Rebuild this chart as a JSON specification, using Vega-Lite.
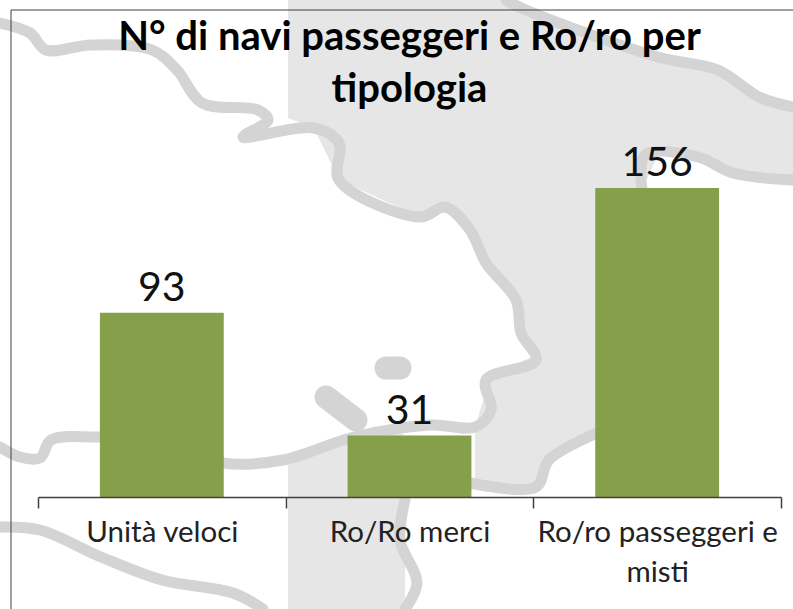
{"$schema":"https://vega.github.io/schema/vega-lite/v6.json","autosize":"none","width":743,"height":337,"padding":{"left":38,"top":160,"right":12,"bottom":112},"background":"white","view":{"stroke":null},
"title":{"text":["N° di navi passeggeri e Ro/ro per","tipologia"],"font":"Lato","fontWeight":"bold","fontSize":40,"lineHeight":52,"color":"#000000","anchor":"middle","offset":-115},
"datasets":{
"land":[{"part":"a","mx":288,"my":0,"my2":118},{"part":"a","mx":314,"my":0,"my2":128},{"part":"a","mx":339,"my":0,"my2":180},{"part":"a","mx":420,"my":0,"my2":217},{"part":"a","mx":445,"my":0,"my2":207},{"part":"a","mx":470,"my":0,"my2":230},{"part":"a","mx":486,"my":0,"my2":263},{"part":"a","mx":506,"my":0,"my2":290},{"part":"a","mx":516,"my":4,"my2":300},{"part":"a","mx":526,"my":10,"my2":333},{"part":"a","mx":536,"my":14,"my2":360},{"part":"a","mx":537,"my":14,"my2":440},{"part":"a","mx":549,"my":19,"my2":460},{"part":"a","mx":597,"my":35,"my2":433},{"part":"a","mx":642,"my":51,"my2":190},{"part":"a","mx":658,"my":57,"my2":155},{"part":"a","mx":698,"my":66,"my2":157},{"part":"a","mx":718,"my":70,"my2":165},{"part":"a","mx":733,"my":80,"my2":173},{"part":"a","mx":759,"my":97,"my2":177},{"part":"a","mx":793,"my":107,"my2":180},
{"part":"b","mx":475,"my":427,"my2":483},{"part":"b","mx":491,"my":375,"my2":483},{"part":"b","mx":536,"my":355,"my2":487},{"part":"b","mx":549,"my":355,"my2":460},
{"part":"c","mx":288,"my":460,"my2":609},{"part":"c","mx":354,"my":437,"my2":609},{"part":"c","mx":400,"my":430,"my2":609},{"part":"c","mx":405,"my":437,"my2":609}],
"coast":[
{"s":"a","i":1,"mx":0,"my":23},{"s":"a","i":2,"mx":30,"my":33},{"s":"a","i":3,"mx":46,"my":50},{"s":"a","i":4,"mx":91,"my":45},{"s":"a","i":5,"mx":152,"my":50},{"s":"a","i":6,"mx":177,"my":70},{"s":"a","i":7,"mx":202,"my":103},{"s":"a","i":8,"mx":258,"my":110},{"s":"a","i":9,"mx":268,"my":120},{"s":"a","i":10,"mx":243,"my":137},{"s":"a","i":11,"mx":314,"my":128},{"s":"a","i":12,"mx":339,"my":143},{"s":"a","i":13,"mx":339,"my":180},{"s":"a","i":14,"mx":420,"my":217},{"s":"a","i":15,"mx":445,"my":207},{"s":"a","i":16,"mx":470,"my":230},{"s":"a","i":17,"mx":486,"my":263},{"s":"a","i":18,"mx":516,"my":300},{"s":"a","i":19,"mx":521,"my":333},{"s":"a","i":20,"mx":536,"my":360},{"s":"a","i":21,"mx":486,"my":380},{"s":"a","i":22,"mx":491,"my":410},{"s":"a","i":23,"mx":475,"my":427},{"s":"a","i":24,"mx":430,"my":425},{"s":"a","i":25,"mx":354,"my":437},{"s":"a","i":26,"mx":283,"my":460},{"s":"a","i":27,"mx":223,"my":463},{"s":"a","i":28,"mx":160,"my":440},{"s":"a","i":29,"mx":96,"my":437},{"s":"a","i":30,"mx":51,"my":440},{"s":"a","i":31,"mx":40,"my":458},{"s":"a","i":32,"mx":20,"my":457},{"s":"a","i":33,"mx":0,"my":447},
{"s":"b","i":1,"mx":506,"my":0},{"s":"b","i":2,"mx":526,"my":10},{"s":"b","i":3,"mx":658,"my":57},{"s":"b","i":4,"mx":718,"my":70},{"s":"b","i":5,"mx":759,"my":97},{"s":"b","i":6,"mx":793,"my":107},
{"s":"c","i":1,"mx":642,"my":190},{"s":"c","i":2,"mx":645,"my":155},{"s":"c","i":3,"mx":698,"my":157},{"s":"c","i":4,"mx":733,"my":173},{"s":"c","i":5,"mx":793,"my":180},
{"s":"d","i":1,"mx":470,"my":483},{"s":"d","i":2,"mx":536,"my":487},{"s":"d","i":3,"mx":549,"my":460},{"s":"d","i":4,"mx":597,"my":433},
{"s":"e","i":1,"mx":0,"my":527},{"s":"e","i":2,"mx":40,"my":530},{"s":"e","i":3,"mx":101,"my":557},{"s":"e","i":4,"mx":162,"my":580},{"s":"e","i":5,"mx":233,"my":593},{"s":"e","i":6,"mx":263,"my":609},
{"s":"f","i":1,"mx":405,"my":500},{"s":"f","i":2,"mx":400,"my":540},{"s":"f","i":3,"mx":417,"my":583},{"s":"f","i":4,"mx":405,"my":609}],
"islands":[{"s":"g","i":1,"mx":386,"my":368},{"s":"g","i":2,"mx":400,"my":368},{"s":"h","i":1,"mx":326,"my":397},{"s":"h","i":2,"mx":356,"my":420}],
"frame":[{"i":1,"mx":11,"my":609},{"i":2,"mx":11,"my":10},{"i":3,"mx":793,"my":10}],
"bars":[{"tipo":"Unità veloci","n":93},{"tipo":"Ro/Ro merci","n":31},{"tipo":"Ro/ro passeggeri e misti","n":156}]},
"layer":[
{"layer":[
{"data":{"name":"land"},"mark":{"type":"area","color":"#e6e6e6","opacity":1},"encoding":{"x":{"field":"mx","type":"quantitative"},"y":{"field":"my","type":"quantitative","stack":null},"y2":{"field":"my2"},"detail":{"field":"part"}}},
{"data":{"name":"coast"},"mark":{"type":"line","color":"#d4d4d4","strokeWidth":11,"strokeJoin":"round","strokeCap":"round","interpolate":"catmull-rom"},"encoding":{"x":{"field":"mx","type":"quantitative"},"y":{"field":"my","type":"quantitative"},"detail":{"field":"s"},"order":{"field":"i","type":"quantitative"}}},
{"data":{"name":"islands"},"mark":{"type":"line","color":"#d4d4d4","strokeWidth":23,"strokeJoin":"round","strokeCap":"round"},"encoding":{"x":{"field":"mx","type":"quantitative"},"y":{"field":"my","type":"quantitative"},"detail":{"field":"s"},"order":{"field":"i","type":"quantitative"}}},
{"data":{"name":"frame"},"mark":{"type":"line","color":"#404040","strokeWidth":1},"encoding":{"x":{"field":"mx","type":"quantitative"},"y":{"field":"my","type":"quantitative"},"order":{"field":"i","type":"quantitative"}}}
],"encoding":{"x":{"scale":{"domain":[0,793],"range":[-38,755],"nice":false,"zero":false},"axis":null},"y":{"scale":{"domain":[0,609],"range":[-160,449],"nice":false,"zero":false},"axis":null}}},
{"data":{"name":"bars"},"encoding":{"x":{"field":"tipo","type":"nominal","sort":null,"scale":{"paddingInner":0,"paddingOuter":0},"axis":{"title":null,"labelAngle":0,"labelFont":"Lato","labelFontSize":29.5,"labelColor":"#222222","labelLineHeight":40,"labelLimit":0,"labelPadding":10,"tickColor":"#404040","tickSize":11,"tickWidth":1.5,"domainColor":"#404040","domainWidth":1.5,"tickBand":"extent","grid":false,"zindex":1,"labelExpr":"datum.label == 'Ro/ro passeggeri e misti' ? ['Ro/ro passeggeri e','misti'] : datum.label"}},"y":{"field":"n","type":"quantitative","scale":{"domain":[0,170.2],"nice":false},"axis":null}},
"layer":[{"mark":{"type":"bar","color":"#85a04b","width":{"band":0.5}}},{"mark":{"type":"text","font":"Lato","fontSize":41,"color":"#111111","baseline":"alphabetic","dy":-12},"encoding":{"text":{"field":"n","type":"quantitative"}}}]}
],"resolve":{"scale":{"x":"independent","y":"independent"},"axis":{"x":"independent","y":"independent"}}}
